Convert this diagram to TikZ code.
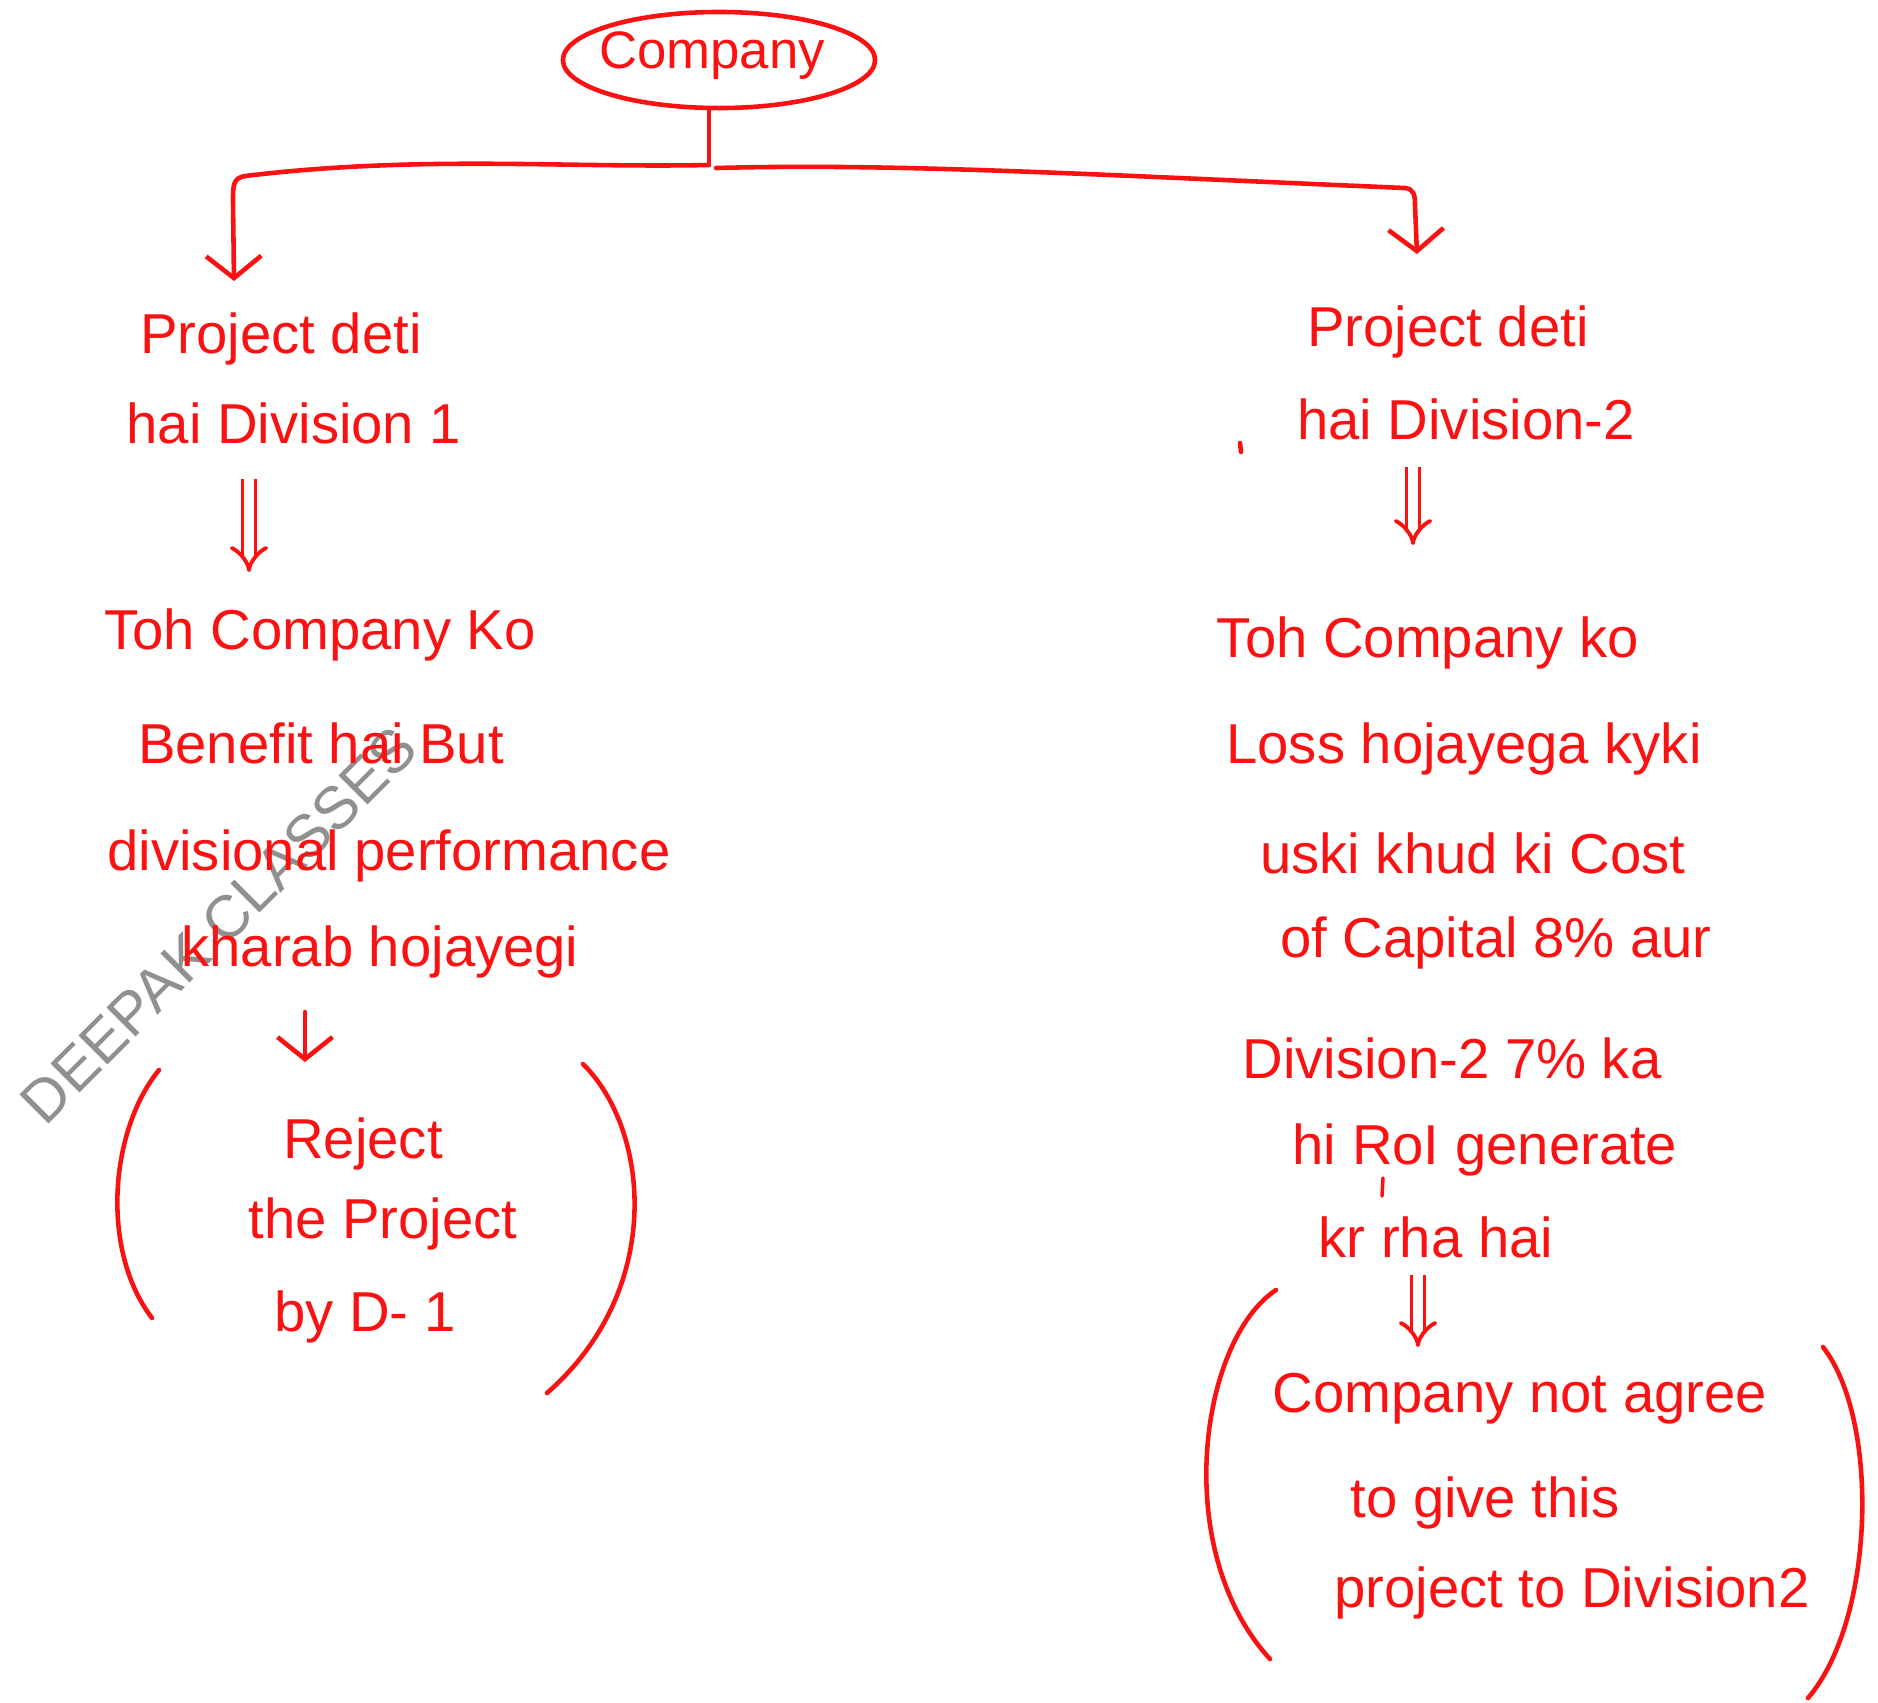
\documentclass[tikz,border=0pt]{standalone}
\usepackage{fontspec}
\setmainfont{Liberation Sans}
\usetikzlibrary{shapes.geometric,arrows.meta}
\definecolor{inkred}{RGB}{250,18,18}
\definecolor{markgray}{RGB}{125,125,125}
\begin{document}
\begin{tikzpicture}[x=0.01cm,y=-0.01cm,
  ink/.style={draw=inkred, line width=1.3pt, line cap=round, line join=round},
  note/.style={text=inkred, font=\fontsize{16}{19}\selectfont, inner sep=1pt},
  tip/.style={-{Straight Barb[length=2.2mm,width=5.5mm]}},
  dbl/.style={draw=inkred, line width=1.1pt, double, double distance=2.6pt,
              -{Implies[length=3mm]}}]
\useasboundingbox (0,0) rectangle (1878,1702);

% watermark
\node[text=markgray, opacity=0.85, rotate=45, font=\fontsize{17}{20}\selectfont]
  (wm) at (219,925) {DEEPAK CLASSES};

% root
\node[ellipse, ink, minimum width=3.12cm, minimum height=0.96cm, inner sep=0pt]
  (co) at (719,60) {};
\node[note, font=\fontsize{15}{18}\selectfont] (colbl) at (712,56) {Company};

% branch points
\coordinate (split) at (709,165);
\coordinate (ltip) at (234,281);
\coordinate (rtip) at (1417,254);

% left column
\node[note] (L1) at (281,339) {Project deti};
\node[note] (L2) at (294,423) {hai Division 1};
\node[note] (L3) at (320,635) {Toh Company Ko};
\node[note] (L4) at (321,743) {Benefit hai But};
\node[note] (L5) at (389,856) {divisional performance};
\node[note] (L6) at (380,952) {kharab hojayegi};
\node[note] (L7) at (363,1144) {Reject};
\node[note] (L8) at (383,1224) {the Project};
\node[note] (L9) at (365,1317) {by D- 1};

% right column
\node[note] (R1) at (1448,332) {Project deti};
\node[note] (R2) at (1466,419) {hai Division-2};
\node[note] (R3) at (1428,643) {Toh Company ko};
\node[note] (R4) at (1464,749) {Loss hojayega kyki};
\node[note] (R5) at (1473,853) {uski khud ki Cost};
\node[note] (R6) at (1496,943) {of Capital 8\% aur};
\node[note] (R7) at (1452,1058) {Division-2 7\% ka};
\node[note] (R8) at (1485,1150) {hi RoI generate};
\node[note] (R9) at (1436,1237) {kr rha hai};
\node[note] (R10) at (1520,1399) {Company not agree};
\node[note] (R11) at (1485,1503) {to give this};
\node[note] (R12) at (1572,1593) {project to Division2};

% tree connectors
\draw[ink] (split |- co.south) -- (split);
\draw[ink, tip] (split) .. controls (560,168) and (420,155) .. (245,176)
  .. controls (233,178) and (233,186) .. (233,200) -- (ltip);
\draw[ink, tip] (716,168) .. controls (900,163) and (1100,175) .. (1405,188)
  .. controls (1414,189) and (1415,195) .. (1415,205) -- (rtip);

% flow arrows
\coordinate (ld1) at (249,479); \coordinate (ld2) at (249,572);
\draw[dbl] (ld1) -- (ld2);
\coordinate (ls1) at (305,1012); \coordinate (ls2) at (305,1062);
\draw[ink, tip] (ls1) -- (ls2);
\coordinate (rd1) at (1413,467); \coordinate (rd2) at (1413,545);
\draw[dbl] (rd1) -- (rd2);
\coordinate (rd3) at (1418,1275); \coordinate (rd4) at (1418,1347);
\draw[dbl] (rd3) -- (rd4);

% small pen marks
\draw[ink] (1240,443) -- (1241,452);
\draw[ink, line width=1pt] (1383,1178) -- (1382,1196);

% brackets round the conclusions
\draw[ink] (159,1070) .. controls (110,1130) and (100,1250) .. (152,1318);
\draw[ink] (583,1064) .. controls (650,1130) and (665,1290) .. (547,1393);
\draw[ink] (1276,1290) .. controls (1200,1340) and (1170,1550) .. (1270,1659);
\draw[ink] (1823,1347) .. controls (1880,1420) and (1875,1620) .. (1808,1698);
\end{tikzpicture}
\end{document}
